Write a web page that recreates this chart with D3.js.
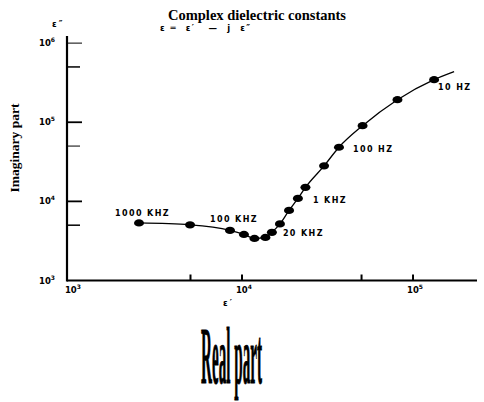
<!DOCTYPE html>
<html>
<head>
<meta charset="utf-8">
<script src="https://cdn.jsdelivr.net/npm/d3@7"></script>
<style>
  html, body { margin: 0; padding: 0; background: #fff; }
  svg { display: block; }
</style>
</head>
<body>
<svg id="chart" width="484" height="402"></svg>
<script>
// ---- data ----
const realPart = [2500, 4970, 8510, 10270, 11830, 13710, 14960, 16670, 18840, 21230, 23500, 30200, 36900, 50700, 81100, 132800];
const imagPart = [5340, 5050, 4300, 3820, 3400, 3500, 4060, 5190, 7690, 10900, 15030, 28100, 48300, 90400, 192700, 345000];
const curveTail = [173800, 435600];   // end of the drawn curve beyond the 10 Hz point
const freqLabels = ["1000 KHZ", "100 KHZ", "20 KHZ", "1 KHZ", "100 HZ", "10 HZ"];
const freqLabelAt = [0, 2, 6, 9, 12, 15];  // index of the point each label belongs to
const xMajorTicks = [1e3, 1e4, 1e5];
const xMinorTicks = [5e3, 5e4];
const yMajorTicks = [1e4, 1e5, 1e6];
const yMinorTicks = [5e3, 5e4, 5e5];
const yTickLabels = [1e3, 1e4, 1e5, 1e6];

const svg = d3.select("#chart");

const x = d3.scaleLog().domain([Math.pow(10, 2.977), Math.pow(10, 5.374)]).range([67, 477]);
const y = d3.scaleLog().domain([1e3, Math.pow(10, 6.09)]).range([280.5, 36]);

const tickFont = "'DejaVu Sans', sans-serif";

// title
svg.append("text")
  .attr("x", 257).attr("y", 20)
  .attr("text-anchor", "middle")
  .attr("font-family", "'Liberation Serif', serif")
  .attr("font-weight", "bold")
  .attr("font-size", 14.5)
  .text("Complex dielectric constants");

// formula under title
svg.append("text")
  .attr("x", 160).attr("y", 31)
  .attr("font-family", tickFont)
  .attr("font-weight", "bold")
  .attr("font-size", 8.5)
  .attr("letter-spacing", 1.4)
  .attr("xml:space", "preserve")
  .style("white-space", "pre")
  .text("ε ═  ε′   —  j  ε″");

// y-axis symbol
svg.append("text")
  .attr("x", 52).attr("y", 27)
  .attr("font-family", tickFont).attr("font-weight", "bold").attr("font-size", 8.5)
  .attr("letter-spacing", 2)
  .text("ε″");

// x-axis symbol
svg.append("text")
  .attr("x", 223).attr("y", 306)
  .attr("font-family", tickFont).attr("font-weight", "bold").attr("font-size", 8.5)
  .attr("letter-spacing", 2)
  .text("ε′");

// axes lines
const [x0, x1] = x.range();
const [y0, y1] = y.range();
svg.append("line").attr("x1", x0).attr("x2", x0).attr("y1", y1).attr("y2", y0 + 1)
  .attr("stroke", "#000").attr("stroke-width", 2.2);
svg.append("line").attr("x1", x0).attr("x2", x1).attr("y1", y0).attr("y2", y0)
  .attr("stroke", "#000").attr("stroke-width", 2);

// y ticks (pointing inward)
svg.selectAll(".ytM").data(yMajorTicks).enter().append("line")
  .attr("x1", x0).attr("x2", x0 + 15)
  .attr("y1", d => y(d)).attr("y2", d => y(d))
  .attr("stroke", "#000").attr("stroke-width", d => d === 1e6 ? 1 : 1.8);
svg.selectAll(".ytm").data(yMinorTicks).enter().append("line")
  .attr("x1", x0).attr("x2", x0 + 13)
  .attr("y1", d => y(d)).attr("y2", d => y(d))
  .attr("stroke", "#000").attr("stroke-width", d => d === 5e4 ? 1 : 1.5);

// x ticks (pointing inward)
svg.selectAll(".xt").data(xMajorTicks.slice(1).concat(xMinorTicks)).enter().append("line")
  .attr("x1", d => x(d)).attr("x2", d => x(d))
  .attr("y1", y0).attr("y2", y0 - 6)
  .attr("stroke", "#000").attr("stroke-width", 2);

function expOf(v) { return Math.round(Math.log10(v)); }

// y tick labels
const yl = svg.selectAll(".yl").data(yTickLabels).enter().append("text")
  .attr("x", 55).attr("y", d => y(d) + 3)
  .attr("text-anchor", "end")
  .attr("font-family", tickFont).attr("font-weight", "bold").attr("font-size", 8.5);
yl.append("tspan").text("10");
yl.append("tspan").attr("dy", -4).attr("font-size", 6).text(d => expOf(d));

// x tick labels
const xl = svg.selectAll(".xl").data(xMajorTicks).enter().append("text")
  .attr("x", d => x(d) + 2).attr("y", y0 + 12)
  .attr("text-anchor", "middle")
  .attr("font-family", tickFont).attr("font-weight", "bold").attr("font-size", 8.5);
xl.append("tspan").text("10");
xl.append("tspan").attr("dy", -4).attr("font-size", 6).text(d => expOf(d));

// curve
const pts = realPart.map((r, i) => [r, imagPart[i]]);
const linePts = pts.concat([curveTail]);
svg.append("path")
  .datum(linePts)
  .attr("fill", "none").attr("stroke", "#000").attr("stroke-width", 1.3)
  .attr("d", d3.line().x(d => x(d[0])).y(d => y(d[1])).curve(d3.curveMonotoneX));

// markers
svg.selectAll(".pt").data(pts).enter().append("ellipse")
  .attr("cx", d => x(d[0])).attr("cy", d => y(d[1]))
  .attr("rx", 5).attr("ry", 3.6)
  .attr("fill", "#000");

// frequency labels
const labelOffsets = [[-24, -7], [-20, -8], [11, 4], [15, 5], [14, 5], [4, 10]];
svg.selectAll(".fl").data(freqLabels).enter().append("text")
  .attr("x", (d, i) => x(pts[freqLabelAt[i]][0]) + labelOffsets[i][0])
  .attr("y", (d, i) => y(pts[freqLabelAt[i]][1]) + labelOffsets[i][1])
  .attr("font-family", tickFont).attr("font-weight", "bold").attr("font-size", 8)
  .attr("letter-spacing", 1.4)
  .text(d => d);

// vertical axis title
svg.append("text")
  .attr("transform", "translate(19,148) rotate(-90)")
  .attr("text-anchor", "middle")
  .attr("font-family", "'Liberation Serif', serif")
  .attr("font-weight", "bold").attr("font-size", 13.5)
  .text("Imaginary part");

// big "Real part" label (tall condensed)
const rp = svg.append("text")
  .attr("font-family", "'Liberation Serif', serif")
  .attr("font-weight", "bold")
  .attr("font-size", 20)
  .attr("stroke", "#000").attr("stroke-width", 0.25)
  .text("Real part");
const w = rp.node().getComputedTextLength();
const sx = 61 / w, sy = 4.0;
rp.attr("transform", `translate(201,383) scale(${sx},${sy})`);
</script>
</body>
</html>
